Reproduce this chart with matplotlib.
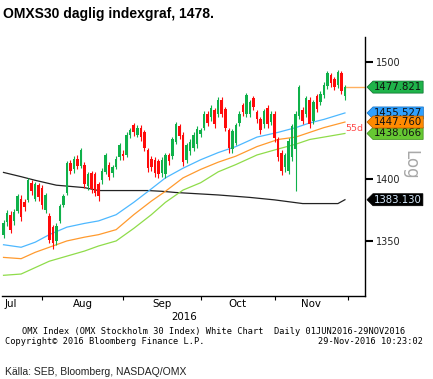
"""
OMXS30 daily candle chart (Bloomberg style) with moving averages
"""

import matplotlib
matplotlib.use('Agg')
import matplotlib.pyplot as plt
from matplotlib.path import Path
from matplotlib.ticker import NullLocator, NullFormatter
import numpy as np
import pandas as pd

# Trading days shown: 15 Jul - 29 Nov 2016
start_date = '2016-07-15'
end_date = '2016-11-29'

opens = [1355, 1365, 1371, 1366, 1374, 1384, 1381, 1383, 1397, 1384,
         1395, 1393, 1375, 1370, 1361, 1350, 1366, 1379, 1389, 1413,
         1408, 1417, 1411, 1412, 1394, 1405, 1404, 1396, 1399, 1406,
         1412, 1405, 1410, 1418, 1421, 1420, 1437, 1445, 1437, 1443,
         1439, 1424, 1417, 1416, 1415, 1405, 1404, 1420, 1419, 1431,
         1444, 1437, 1416, 1423, 1426, 1429, 1438, 1443, 1455, 1452,
         1458, 1455, 1467, 1459, 1441, 1425, 1430, 1447, 1462, 1455,
         1455, 1468, 1456, 1450, 1446, 1460, 1448, 1455, 1433, 1422,
         1410, 1407, 1418, 1425, 1453, 1458, 1455, 1467, 1449, 1470,
         1465, 1471, 1479, 1488, 1485, 1480, 1490, 1470]
closes = [1364, 1372, 1359, 1373, 1386, 1369, 1377, 1399, 1390, 1396,
          1385, 1379, 1387, 1351, 1348, 1362, 1378, 1386, 1413, 1407,
          1417, 1411, 1424, 1396, 1404, 1392, 1389, 1386, 1407, 1420,
          1402, 1410, 1417, 1428, 1419, 1437, 1441, 1439, 1443, 1435,
          1426, 1409, 1410, 1405, 1404, 1416, 1420, 1415, 1433, 1446,
          1436, 1414, 1428, 1431, 1437, 1442, 1441, 1455, 1447, 1460,
          1446, 1467, 1455, 1443, 1426, 1440, 1445, 1455, 1456, 1471,
          1465, 1461, 1450, 1441, 1457, 1446, 1455, 1434, 1418, 1407,
          1420, 1432, 1444, 1455, 1478, 1449, 1468, 1446, 1465, 1459,
          1472, 1480, 1490, 1481, 1478, 1491, 1474, 1477.821]
highs = [1367, 1375, 1374, 1376, 1388, 1387, 1384, 1401, 1399, 1398,
         1397, 1395, 1389, 1372, 1363, 1364, 1380, 1388, 1415, 1416,
         1419, 1420, 1426, 1414, 1406, 1407, 1406, 1398, 1409, 1422,
         1414, 1412, 1419, 1430, 1424, 1439, 1443, 1447, 1445, 1445,
         1441, 1426, 1419, 1418, 1417, 1418, 1422, 1422, 1435, 1448,
         1446, 1439, 1430, 1433, 1439, 1444, 1443, 1457, 1457, 1462,
         1460, 1469, 1469, 1461, 1443, 1442, 1447, 1457, 1464, 1473,
         1467, 1470, 1458, 1452, 1459, 1462, 1457, 1457, 1435, 1424,
         1422, 1434, 1446, 1457, 1480, 1461, 1470, 1469, 1467, 1472,
         1474, 1482, 1492, 1490, 1487, 1493, 1492, 1480]
lows = [1352, 1362, 1356, 1363, 1372, 1366, 1374, 1381, 1387, 1382,
        1382, 1376, 1372, 1348, 1344, 1347, 1364, 1377, 1387, 1404,
        1405, 1408, 1409, 1393, 1391, 1389, 1386, 1382, 1396, 1404,
        1399, 1402, 1408, 1416, 1416, 1418, 1434, 1436, 1435, 1432,
        1423, 1406, 1407, 1402, 1401, 1402, 1401, 1412, 1417, 1429,
        1433, 1411, 1413, 1420, 1423, 1426, 1435, 1441, 1444, 1449,
        1443, 1452, 1452, 1440, 1422, 1422, 1428, 1444, 1453, 1452,
        1452, 1458, 1447, 1438, 1443, 1443, 1445, 1431, 1415, 1403,
        1406, 1404, 1415, 1390, 1450, 1446, 1452, 1443, 1446, 1456,
        1462, 1468, 1476, 1478, 1475, 1477, 1472, 1467]

# Moving averages, read at selected days
ma_days = [0, 5, 9, 13, 18, 23, 27, 32, 37, 42, 46, 51, 56, 61, 66, 72, 78, 83, 87, 91, 97]
ma_blue = [1347, 1345, 1349, 1355, 1361, 1364, 1366, 1371, 1381, 1392, 1401,
           1409, 1416, 1422, 1427, 1435, 1439, 1443, 1447, 1450, 1455.527]
ma_orange = [1337, 1336, 1341, 1345, 1350, 1353, 1355, 1359, 1371, 1382, 1390,
             1401, 1408, 1414, 1419, 1427, 1433, 1435, 1439, 1443, 1447.760]
ma_green = [1323, 1324, 1329, 1334, 1338, 1342, 1346, 1350, 1360, 1371, 1381,
            1391, 1397, 1406, 1412, 1420, 1425, 1429, 1433, 1435, 1438.066]
ma_black_days = [0, 5, 9, 12, 15, 23, 27, 41, 45, 49, 55, 61, 70, 77, 81, 85, 95, 97]
ma_black = [1405.5, 1402, 1399, 1397, 1395, 1393, 1390.6, 1390.6, 1390, 1389,
            1388, 1387, 1385, 1383, 1381.5, 1380, 1380, 1383.13]

y_ticks = [1350, 1400, 1500]
month_names = ['Jul', 'Aug', 'Sep', 'Oct', 'Nov']

GREEN = '#0fb14a'
RED = '#ff0a0a'

W, H = 433, 379
fig = plt.figure(figsize=(W / 100, H / 100), dpi=100)
ax = fig.add_axes([2 / W, 1 - 296 / H, 363 / W, 259 / H])

dates = pd.bdate_range(start_date, end_date)
x = np.arange(len(dates))
o = np.array(opens)
c = np.array(closes)
up = c >= o
colors = np.where(up, GREEN, RED)

# Candles
ax.vlines(x, lows, highs, colors=colors, lw=0.8, zorder=3)
ax.bar(x, np.abs(c - o), bottom=np.minimum(o, c), width=0.72,
       color=colors, linewidth=0, zorder=3)

# Moving averages
ax.plot(ma_black_days, ma_black, color='#222222', lw=0.9, zorder=2)
ax.plot(ma_days, ma_blue, color='#4db8ff', lw=0.9, zorder=2)
ax.plot(ma_days, ma_orange, color='#ff9a2e', lw=0.9, zorder=2)
ax.plot(ma_days, ma_green, color='#8fdc4a', lw=0.9, zorder=2)

ax.set_yscale('log')
ax.set_ylim(1307, 1522)
ax.set_xlim(-0.43, 102.7)

# last price line
ax.plot([x[-1], ax.get_xlim()[1]], [closes[-1], closes[-1]], color='#ffb060', lw=1, zorder=2)
ax.annotate('55d', xy=(x[-1] + 0.2, ma_orange[-1]), xytext=(0, -1.5), textcoords='offset points',
            color='#ff4a4a', fontsize=6.8, ha='left', va='top', annotation_clip=False, zorder=8)

# Axes styling
for side in ['left', 'top']:
    ax.spines[side].set_visible(False)
ax.spines['bottom'].set_linewidth(1)
ax.spines['right'].set_linewidth(1)

ax.yaxis.tick_right()
ax.set_yticks(y_ticks)
ax.set_yticklabels([str(t) for t in y_ticks])
ax.yaxis.set_minor_locator(NullLocator())
ax.yaxis.set_minor_formatter(NullFormatter())
ax.tick_params(axis='y', direction='out', length=6, width=1.5, pad=2,
               labelsize=7, labelcolor='#222222')

month_starts = [i for i in range(1, len(dates)) if dates[i].month != dates[i - 1].month]
month_starts.append(len(dates))
centers = [2.1] + [(a + b) / 2 for a, b in zip(month_starts[:-1], month_starts[1:])]
ax.set_xticks(month_starts)
ax.set_xticklabels([])
ax.set_xticks(centers, minor=True)
ax.set_xticklabels(month_names, minor=True)
ax.tick_params(axis='x', which='major', direction='out', length=3, width=0.8)
ax.tick_params(axis='x', which='minor', length=0, pad=2.5, labelsize=7.4)


def tag_box(x0, y0, width, height, mutation_size):
    """Price tag shaped box pointing left"""
    p = 0.1 * mutation_size
    x0, y0 = x0 - p, y0 - p
    x1, y1 = x0 + width + 2 * p, y0 + height + 2 * p
    tip = (y1 - y0) * 0.5
    ym = (y0 + y1) / 2
    verts = [(x0 - tip, ym), (x0, y1), (x1, y1), (x1, y0), (x0, y0), (x0 - tip, ym)]
    codes = [Path.MOVETO] + [Path.LINETO] * 4 + [Path.CLOSEPOLY]
    return Path(verts, codes)


tags = [
    (ma_blue[-1], '#2ea0ff', '#1670c0', '#111111', 5),
    (ma_green[-1], '#66c832', '#3a8a18', '#111111', 6),
    (ma_orange[-1], '#ff8a00', '#b05a00', '#111111', 7),
    (ma_black[-1], '#000000', '#000000', '#d8ecff', 5),
    (closes[-1], '#1fb34a', '#0a6e2c', '#111111', 5),
]
for value, fc, ec, tc, z in tags:
    ax.text(1.0248, value, f'{value:.3f}', transform=ax.get_yaxis_transform(),
            ha='left', va='center', fontsize=7.3, color=tc, clip_on=False, zorder=z,
            bbox=dict(boxstyle=tag_box, fc=fc, ec=ec, lw=0.5))

fig.text(410 / W, 1 - 165 / H, 'Log', rotation=-90, ha='center', va='center',
         fontsize=12, color='#a8a8a8')

# Titles and footers
fig.text(3 / W, 1 - 14 / H, 'OMXS30 daglig indexgraf, 1478.', family='Liberation Sans',
         weight='bold', fontsize=10, va='center', ha='left')
fig.text(184 / W, 1 - 317 / H, '2016', ha='center', va='center', fontsize=7.4)
fig.text(214 / W, 1 - 332 / H,
         'OMX Index (OMX Stockholm 30 Index) White Chart  Daily 01JUN2016-29NOV2016',
         family='DejaVu Sans Mono', fontsize=6.2, ha='center', va='center')
fig.text(5 / W, 1 - 342 / H, 'Copyright\u00a9 2016 Bloomberg Finance L.P.',
         family='DejaVu Sans Mono', fontsize=6.2, ha='left', va='center')
fig.text(423 / W, 1 - 342 / H, '29-Nov-2016 10:23:02',
         family='DejaVu Sans Mono', fontsize=6.2, ha='right', va='center')
fig.text(5 / W, 1 - 372 / H, 'Källa: SEB, Bloomberg, NASDAQ/OMX', family='Liberation Sans',
         fontsize=7.5, ha='left', va='center', color='#222222')

fig.savefig('out.png', dpi=100)
plt.close(fig)
